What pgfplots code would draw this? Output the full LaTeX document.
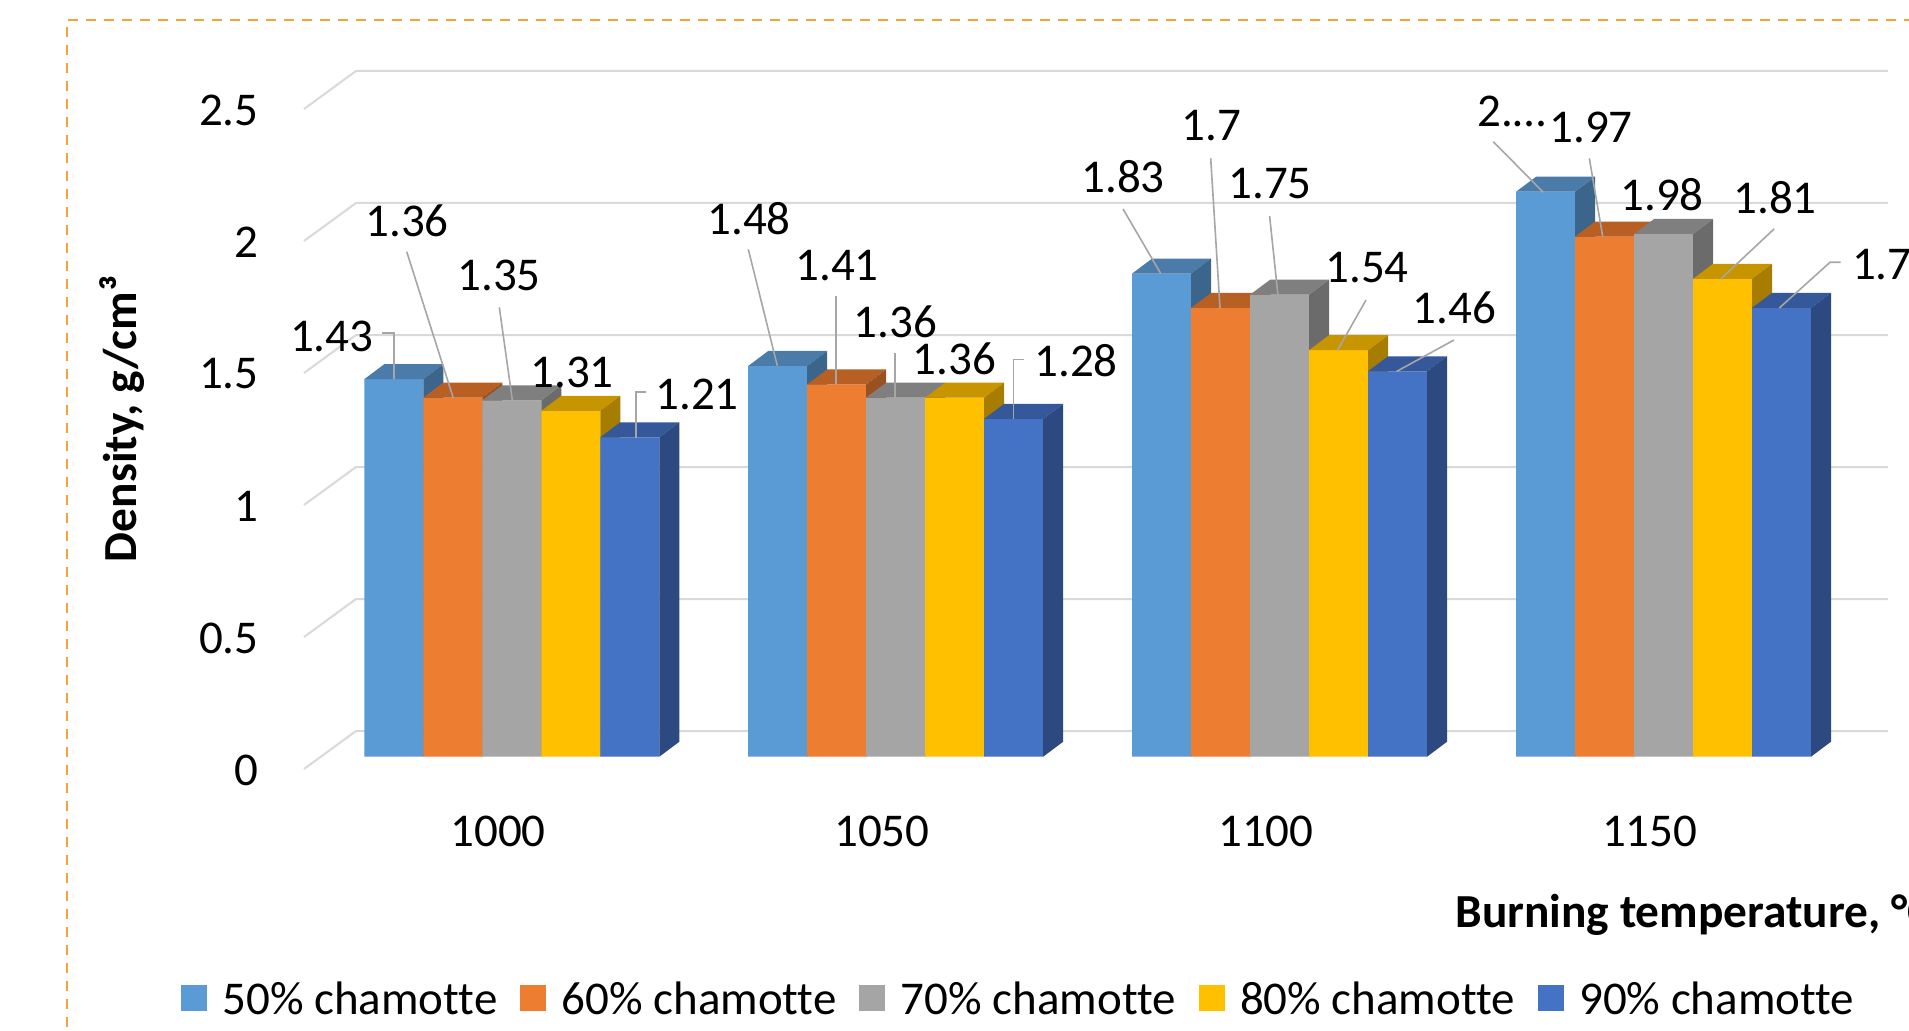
\documentclass[border=0pt]{standalone}
\usepackage{pgfplots}
\pgfplotsset{compat=1.18}
\usepackage{pgfplotstable}
\usepackage{fontspec}
\setmainfont{Carlito}[Ligatures=NoCommon]

% series colours: front, top and side faces
\definecolor{c50}{HTML}{5B9BD5}\definecolor{c50top}{HTML}{4A7BA9}\definecolor{c50side}{HTML}{3B658B}
\definecolor{c60}{HTML}{ED7D31}\definecolor{c60top}{HTML}{B85F24}\definecolor{c60side}{HTML}{9A5120}
\definecolor{c70}{HTML}{A5A5A5}\definecolor{c70top}{HTML}{7F7F7F}\definecolor{c70side}{HTML}{6B6B6B}
\definecolor{c80}{HTML}{FFC000}\definecolor{c80top}{HTML}{C69500}\definecolor{c80side}{HTML}{A67D00}
\definecolor{c90}{HTML}{4472C4}\definecolor{c90top}{HTML}{345899}\definecolor{c90side}{HTML}{2C4A7F}
\definecolor{gridgray}{HTML}{D9D9D9}
\definecolor{leadergray}{HTML}{A6A6A6}
\definecolor{frameorange}{HTML}{F4A23C}

% density of the samples, g/cm^3
\pgfplotstableread{
t    s50  s60  s70  s80  s90
1000 1.43 1.36 1.35 1.31 1.21
1050 1.48 1.41 1.36 1.36 1.28
1100 1.83 1.70 1.75 1.54 1.46
1150 2.14 1.97 1.98 1.81 1.70
}\density

% top and right faces of a column, drawn at the middle of its front top edge
\pgfkeys{/bar3d/top/.initial=black,/bar3d/side/.initial=black}
\pgfdeclareplotmark{box3d}{%
  \pgfmathsetlengthmacro\barH{\rawy*132pt}%
  \pgfsetfillcolor{\pgfkeysvalueof{/bar3d/top}}%
  \pgfpathmoveto{\pgfqpoint{-14.75pt}{0pt}}%
  \pgfpathlineto{\pgfqpoint{14.75pt}{0pt}}%
  \pgfpathlineto{\pgfqpoint{24.75pt}{7.5pt}}%
  \pgfpathlineto{\pgfqpoint{-4.75pt}{7.5pt}}%
  \pgfpathclose
  \pgfusepath{fill}%
  \pgfsetfillcolor{\pgfkeysvalueof{/bar3d/side}}%
  \pgfpathmoveto{\pgfqpoint{14.75pt}{0pt}}%
  \pgfpathlineto{\pgfqpoint{24.75pt}{7.5pt}}%
  \pgfpathlineto{\pgfpoint{24.75pt}{7.5pt-\barH}}%
  \pgfpathlineto{\pgfpoint{14.75pt}{-\barH}}%
  \pgfpathclose
  \pgfusepath{fill}%
}

\pgfplotsset{
  front/.style={ybar, bar width=59, bar shift=0pt, fill=#1, draw=none},
  faces/.style 2 args={scatter, only marks, mark=box3d,
    /bar3d/top=#1, /bar3d/side=#2,
    visualization depends on=rawy \as \rawy,
    scatter/@pre marker code/.code={\scope},
    scatter/@post marker code/.code={\endscope}},
}

\newcommand\lbl{\fontsize{23.5pt}{28pt}\selectfont}
\newcommand\lblb{\fontsize{23.7pt}{28pt}\selectfont\bfseries}

\begin{document}
\begin{tikzpicture}
\path[use as bounding box] (0,0) rectangle (954.5pt,515pt);
\clip (0,0) rectangle (954.5pt,515pt);
\fill[white] (0,0) rectangle (954.5pt,515pt);

% walls with gridlines and the value scale
\begin{scope}[shift={(0,515pt)}, x=0.5pt, y=-0.5pt]
  \draw[frameorange, line width=1pt, dash pattern=on 5pt off 4pt] (67,1045) -- (67,20) -- (1925,20);
  \foreach \v in {0,0.5,1,1.5,2,2.5}
    \draw[gridgray, line width=1pt] (304,{769-264*\v}) -- (356,{731-264*\v}) -- (1888,{731-264*\v});
  \foreach \v in {0,0.5,1,1.5,2,2.5}
    \node[anchor=east, inner sep=0pt, font=\lbl] at (259,{770-264*\v}) {\v};
\end{scope}

\begin{axis}[at={(0,0)}, anchor=south west, scale only axis,
  width=954.5pt, height=515pt,
  xmin=0, xmax=1909, ymin=-1.03523, ymax=2.86629,
  hide axis, clip=false, clip mode=individual]
  \addplot[front=c50] table[x expr={393.8+383.9*\coordindex}, y=s50] {\density};
  \addplot[faces={c50top}{c50side}] table[x expr={393.8+383.9*\coordindex}, y=s50] {\density};
  \addplot[front=c60] table[x expr={452.8+383.9*\coordindex}, y=s60] {\density};
  \addplot[faces={c60top}{c60side}] table[x expr={452.8+383.9*\coordindex}, y=s60] {\density};
  \addplot[front=c70] table[x expr={511.8+383.9*\coordindex}, y=s70] {\density};
  \addplot[faces={c70top}{c70side}] table[x expr={511.8+383.9*\coordindex}, y=s70] {\density};
  \addplot[front=c80] table[x expr={570.8+383.9*\coordindex}, y=s80] {\density};
  \addplot[faces={c80top}{c80side}] table[x expr={570.8+383.9*\coordindex}, y=s80] {\density};
  \addplot[front=c90] table[x expr={629.8+383.9*\coordindex}, y=s90] {\density};
  \addplot[faces={c90top}{c90side}] table[x expr={629.8+383.9*\coordindex}, y=s90] {\density};
\end{axis}

% data labels, categories, titles and legend
\begin{scope}[shift={(0,515pt)}, x=0.5pt, y=-0.5pt,
  every node/.style={inner sep=0pt, font=\lbl},
  lead/.style={leadergray, line width=0.8pt}]
  % 1000
  \node at (331.7,336) {1.43};   \draw[lead] (382,333) -- (394,333) -- (394,379);
  \node at (407,221) {1.36};     \draw[lead] (406.7,251.7) -- (453.3,398);
  \node at (499,275) {1.35};     \draw[lead] (499.3,307.3) -- (512.3,400);
  \node at (572,372) {1.31};
  \node at (697,394) {1.21};     \draw[lead] (646,391.7) -- (635.7,391.7) -- (635.7,437.5);
  % 1050
  \node at (749,219) {1.48};     \draw[lead] (748.3,249.3) -- (777.3,365.7);
  \node at (837,265.5) {1.41};   \draw[lead] (836,296) -- (836,384.3);
  \node at (895.5,322) {1.36};   \draw[lead] (895,352.7) -- (895,397.7);
  \node at (954.5,359) {1.36};
  \node at (1076,361) {1.28};    \draw[lead] (1024.3,359.3) -- (1013.3,359.3) -- (1013.3,418.5);
  % 1100
  \node at (1123,177) {1.83};    \draw[lead] (1123,209) -- (1160.7,273.5);
  \node at (1211.7,126) {1.7};   \draw[lead] (1210.7,158.3) -- (1220,308);
  \node at (1270,184) {1.75};    \draw[lead] (1269.6,216) -- (1277.9,294.7);
  \node at (1367,268) {1.54};    \draw[lead] (1366,300) -- (1337.5,350.3);
  \node at (1454.5,308) {1.46};  \draw[lead] (1454,340) -- (1396.5,371.5);
  % 1150
  \node[anchor=west] at (1477,111) {2.…}; \draw[lead] (1493.3,141.7) -- (1543.3,192.3);
  \node at (1591,127) {1.97};    \draw[lead] (1589.3,158.3) -- (1602.7,236.7);
  \node at (1662,195) {1.98};
  \node at (1775,197.5) {1.81};  \draw[lead] (1774,229) -- (1720.7,279);
  \node[anchor=west] at (1851.7,265) {1.7}; \draw[lead] (1840.7,262.3) -- (1830,262.3) -- (1779.3,308);

  % categories
  \foreach \c [count=\i from 0] in {1000,1050,1100,1150}
    \node at ({498+383.9*\i},831) {\c};

  % axis titles
  \node[font=\lblb, rotate=90, anchor=base] at (136.7,419) {Density, g/cm³};
  \node[font=\lblb, anchor=base west] at (1455,927) {Burning temperature, °C};

  % legend
  \foreach \col/\txt [count=\i from 0] in {c50/50\% chamotte,c60/60\% chamotte,c70/70\% chamotte,c80/80\% chamotte,c90/90\% chamotte}{
    \fill[\col] ({181+339.2*\i},985) rectangle ++(26,26);
    \node[anchor=base west] at ({222+339.2*\i},1014) {\txt};
  }
\end{scope}
\end{tikzpicture}
\end{document}
